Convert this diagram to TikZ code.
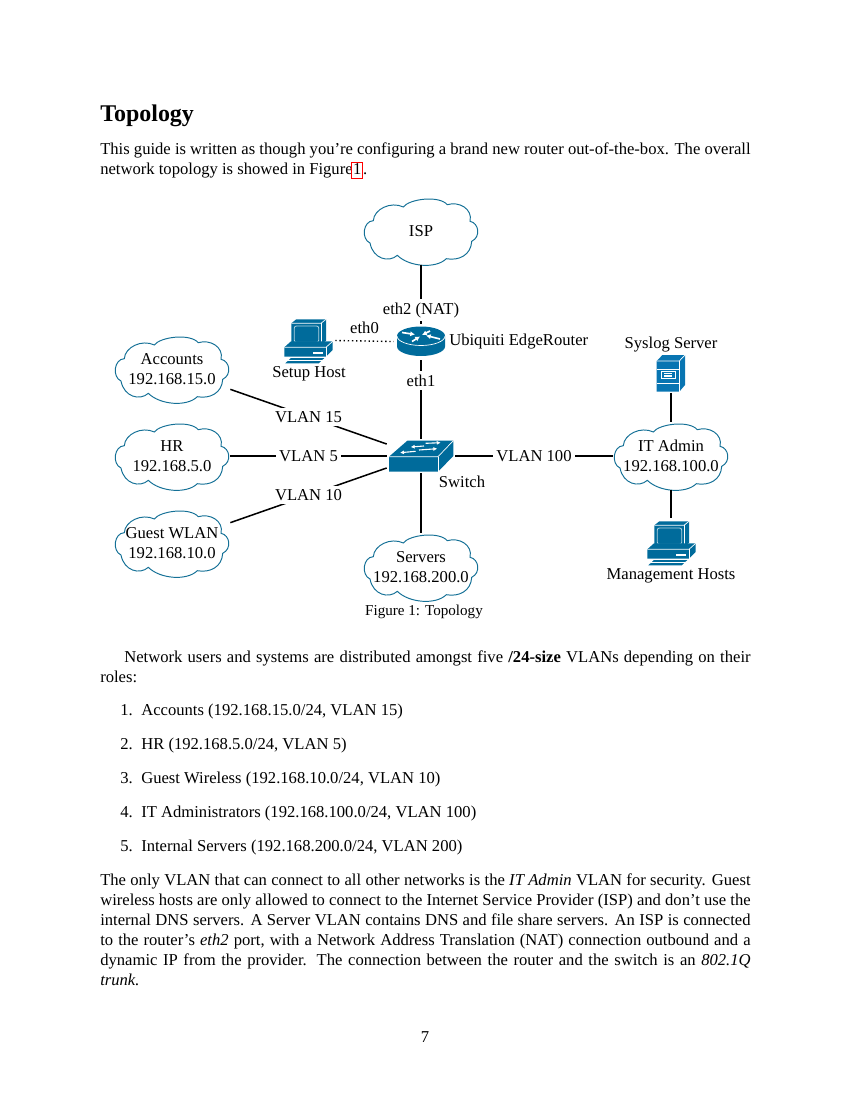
\documentclass[tikz,border=0pt]{standalone}
\usepackage{fontspec}
\setmainfont{Liberation Serif}
\usetikzlibrary{arrows.meta}
\definecolor{ciscoblue}{RGB}{0,107,155}
\definecolor{serverblue}{RGB}{8,117,178}
\definecolor{cloudblue}{RGB}{20,112,150}

\tikzset{
    cloudbox/.style={rectangle,inner sep=0pt,align=center,minimum width=1.16in,minimum height=.68in},
    iconbox/.style={rectangle,inner sep=0pt,minimum width=#1},
    wire/.style={line width=1.1pt},
    wirelabel/.style={fill=white,inner sep=2.5pt},
    whiteline/.style={white,line width=.5pt},
    whitearrow/.style={white,line width=.8pt,-{Latex[length=1mm,width=1mm]}},
    routerarrow/.style={white,line width=1.2pt,-{Latex[length=1.2mm,width=1.3mm]}},
    netcloud/.pic={
        \draw[cloudblue,line width=.7pt]
            (-47.7,-10.3) .. controls (-47,-22) and (-30,-30) .. (-17.7,-24)
            .. controls (-12,-32) and (18,-36) .. (26.3,-26.3)
            .. controls (38,-30) and (52,-22) .. (49,-9.7)
            .. controls (58,-8) and (60,6) .. (50.7,10.3)
            .. controls (50,24) and (38,30) .. (25.3,27.7)
            .. controls (15,38) and (-12,36) .. (-23.7,24.3)
            .. controls (-32,32) and (-48,28) .. (-51,12)
            .. controls (-60,8) and (-58,-10) .. cycle;
    },
    routericon/.pic={
        \fill[ciscoblue] (-24,-6) -- (-24,4.5) arc (180:0:24 and 9.5) -- (24,-6) arc (0:-180:24 and 9.5) -- cycle;
        \draw[whiteline] (-24,-6) arc (180:0:24 and 9.5);
        \draw[routerarrow] (-19,-9.5) -- (-6,-7.5);
        \draw[routerarrow] (-9,-.5) -- (-1,-5.5);
        \draw[routerarrow] (9,-11) -- (1,-7);
        \draw[routerarrow] (19,-3) -- (5,-6.5);
    },
    switchicon/.pic={
        \fill[ciscoblue] (-32,.7) -- (-13.7,-15.3) -- (32.3,-15.3) -- (32.3,0) -- (17,15.7) -- (-32,15.7) -- cycle;
        \draw[whiteline] (-32,.7) -- (17,.7) -- (32.3,-15.3);
        \draw[whiteline] (17,.7) -- (17,15.7);
        \draw[whitearrow] (4.7,-12.7) -- (19.7,-13.3);
        \draw[whitearrow] (3,-10) -- (-10.3,-9);
        \draw[whitearrow] (-2,-6) -- (16.3,-7.3);
        \draw[whitearrow] (-5.3,-4.7) -- (-21,-3.3);
    },
    hosticon/.pic={
        % monitor
        \fill[ciscoblue] (-16.7,-16.7) -- (-11.7,-20.7) -- (18,-20.7) -- (18,.7) -- (13,4.7) -- (-16.7,4.7) -- cycle;
        \draw[whiteline] (-16.7,-16.7) -- (13,-16.7) -- (18,-20.7);
        \draw[whiteline] (13,-16.7) -- (13,4.7);
        \draw[white!70!ciscoblue,line width=.6pt,rounded corners=1.5pt] (-13.7,-14) rectangle (10.7,2.3);
        % base
        \fill[ciscoblue] (-23.7,7.3) -- (-17,1.3) -- (24.7,1.3) -- (24.7,10) -- (18,16.7) -- (-23.7,16.7) -- cycle;
        \draw[whiteline] (-23.7,7.3) -- (18,7.3) -- (24.7,1.3);
        \draw[whiteline] (18,7.3) -- (18,16.7);
        \fill[white] (5.3,12.3) rectangle (15.3,14);
        % keyboard
        \fill[ciscoblue] (-22.7,23.3) -- (-17,18) -- (16.3,18) -- (10.7,23.3) -- cycle;
        \draw[whiteline] (-20.5,20.8) -- (13.5,20.8);
    },
    servericon/.pic={
        \fill[serverblue] (-14.3,-13) -- (-8.6,-19) -- (14,-19) -- (14,11) -- (8.3,17.7) -- (-14.3,17.7) -- cycle;
        \draw[whiteline] (-14.3,-13) -- (8.3,-13) -- (14,-19);
        \draw[whiteline] (8.3,-13) -- (8.3,17.7);
        \draw[whiteline] (-14.3,-5) -- (8.3,-5);
        \draw[whiteline] (-14.3,9) -- (8.3,9);
        \draw[white,line width=.6pt] (-10,-3) rectangle (4,4.5);
        \foreach \y in {-.8,.8,2.4}
            \draw[white,line width=.4pt] (-7,\y) -- (1,\y);
    },
}

\begin{document}
\begin{tikzpicture}[x=0.01in,y=-0.01in,every node/.style={font=\fontsize{12}{14.4}\selectfont}]
    \useasboundingbox (0,0) rectangle (850,1100);
    \setlength{\fboxsep}{.6pt}
    \setlength{\fboxrule}{.7pt}

    % page text above the figure
    \node[anchor=base west,inner sep=0pt,font=\fontsize{17.3}{20}\selectfont\bfseries] (title) at (100,121) {Topology};
    \node[anchor=north west,inner sep=0pt,text width=6.5in,align=justify] (intro) at (100,143)
        {This guide is written as though you’re configuring a brand new router out-of-the-box. The overall\linebreak
        network topology is showed in Figure\kern-1pt\fcolorbox{red}{white}{\rule[-1.6pt]{0pt}{9.7pt}1}.};

    % clouds
    \node[cloudbox] (isp) at (421,231) {ISP};
    \node[cloudbox] (accounts) at (172,369) {Accounts\\192.168.15.0};
    \node[cloudbox] (hr) at (172,456) {HR\\192.168.5.0};
    \node[cloudbox] (guest) at (172,543) {Guest WLAN\\192.168.10.0};
    \node[cloudbox] (servers) at (421,567) {Servers\\192.168.200.0};
    \node[cloudbox] (admin) at (671,456) {IT Admin\\192.168.100.0};
    \foreach \n in {isp,accounts,hr,guest,servers,admin}
        \pic at (\n) {netcloud};

    % devices
    \node[iconbox=.54in,minimum height=.36in] (router) at (421,342) {};
    \node[iconbox=.68in,minimum height=.34in] (switch) at (421,456) {};
    \node[iconbox=.54in,minimum height=.46in] (setup) at (308,340) {};
    \node[iconbox=.54in,minimum height=.48in] (hosts) at (671,542) {};
    \node[iconbox=.30in,minimum height=.37in] (syslog) at (671,374) {};
    \pic at (router) {routericon};
    \pic at (switch) {switchicon};
    \pic at (setup) {hosticon};
    \pic at (hosts) {hosticon};
    \pic at (syslog) {servericon};

    % device names
    \node[inner sep=0pt,anchor=west] (routername) at (449,342) {Ubiquiti EdgeRouter};
    \node[inner sep=0pt] (switchname) at (462,482) {Switch};
    \node[inner sep=0pt] (setupname) at (309,374) {Setup Host};
    \node[inner sep=0pt] (syslogname) at (671,345) {Syslog Server};
    \node[inner sep=0pt] (hostsname) at (671,576) {Management Hosts};

    % connections
    \draw[wire] (isp) -- (router) node[wirelabel,pos=.77]{eth2 (NAT)};
    \draw[wire] (router) -- (switch) node[wirelabel,pos=.26]{eth1};
    \draw[line width=1pt,dotted] (setup) -- (router) node[midway,above,inner sep=5pt]{eth0};
    \draw[wire] (accounts) -- (switch) node[wirelabel,midway]{VLAN 15};
    \draw[wire] (hr) -- (switch) node[wirelabel,midway]{VLAN 5};
    \draw[wire] (guest) -- (switch) node[wirelabel,midway]{VLAN 10};
    \draw[wire] (switch) -- (servers);
    \draw[wire] (switch) -- (admin) node[wirelabel,midway]{VLAN 100};
    \draw[wire] (syslog) -- (admin);
    \draw[wire] (admin) -- (hosts);

    \node[inner sep=0pt,font=\fontsize{10.9}{13}\selectfont] (caption) at (424,612) {Figure 1: Topology};

    % page text below the figure
    \node[anchor=north west,inner sep=0pt,text width=6.5in,align=justify] (users) at (100,651)
        {\hspace*{.24in}Network users and systems are distributed amongst five \textbf{/24-size} VLANs depending on their\linebreak
        roles:};

    \foreach \n/\itemtext in {1/{Accounts (192.168.15.0/24, VLAN 15)},2/{HR (192.168.5.0/24, VLAN 5)},
        3/{Guest Wireless (192.168.10.0/24, VLAN 10)},4/{IT Administrators (192.168.100.0/24, VLAN 100)},
        5/{Internal Servers (192.168.200.0/24, VLAN 200)}}{
        \node[anchor=base west,inner sep=0pt] (num\n) at (120,{681+34*\n}) {\n.};
        \node[anchor=base west,inner sep=0pt] (item\n) at (141,{681+34*\n}) {\itemtext};
    }

    \node[anchor=north west,inner sep=0pt,text width=6.5in,align=justify] (closing) at (100,874)
        {The only VLAN that can connect to all other networks is the \textit{IT Admin} VLAN for security. Guest\linebreak
        wireless hosts are only allowed to connect to the Internet Service Provider (ISP) and don’t use the\linebreak
        internal DNS servers. A Server VLAN contains DNS and file share servers. An ISP is connected\linebreak
        to the router’s \textit{eth2} port, with a Network Address Translation (NAT) connection outbound and a\linebreak
        dynamic IP from the provider. The connection between the router and the switch is an \textit{802.1Q}\linebreak
        \textit{trunk.}};

    \node[inner sep=0pt] (pagenum) at (425,1037) {7};
\end{tikzpicture}
\end{document}
